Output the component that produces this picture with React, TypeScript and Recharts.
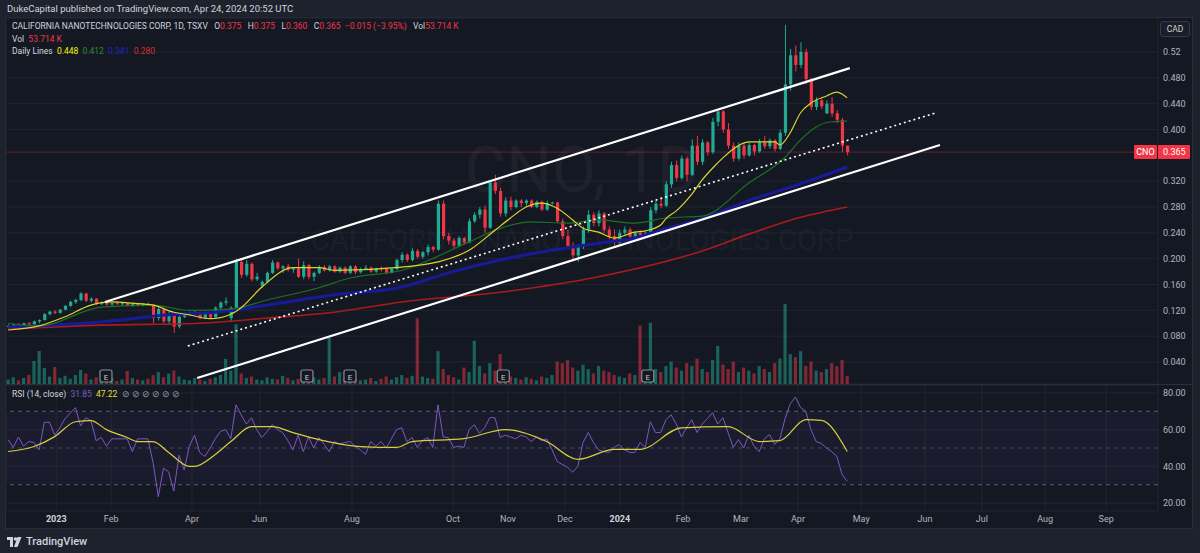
import React from 'react';
import {
  ComposedChart,
  Bar,
  Line,
  XAxis,
  YAxis,
  CartesianGrid,
  ReferenceLine,
  ReferenceArea,
  ReferenceDot,
  Cell,
} from 'recharts';

// one candle per two sessions: index 0 = mid Dec 2022, index 162 = Apr 24 2024
// [open, high, low, close]
const ohlc: number[][] = [
  [0.095, 0.098, 0.093, 0.096], [0.096, 0.099, 0.094, 0.098], [0.098, 0.1, 0.096, 0.097], [0.097, 0.101, 0.096, 0.1],
  [0.1, 0.102, 0.097, 0.098], [0.098, 0.104, 0.097, 0.103], [0.103, 0.106, 0.1, 0.105], [0.105, 0.116, 0.104, 0.114],
  [0.114, 0.119, 0.112, 0.118], [0.118, 0.12, 0.114, 0.116], [0.116, 0.122, 0.115, 0.121], [0.121, 0.128, 0.12, 0.127],
  [0.127, 0.135, 0.125, 0.133], [0.133, 0.138, 0.13, 0.136], [0.136, 0.148, 0.134, 0.146], [0.146, 0.147, 0.133, 0.135],
  [0.135, 0.14, 0.132, 0.138], [0.138, 0.139, 0.128, 0.13], [0.13, 0.134, 0.128, 0.132], [0.132, 0.133, 0.127, 0.129],
  [0.129, 0.133, 0.127, 0.131], [0.131, 0.134, 0.129, 0.13], [0.13, 0.132, 0.128, 0.131], [0.131, 0.132, 0.126, 0.127],
  [0.127, 0.132, 0.125, 0.13], [0.13, 0.131, 0.126, 0.128], [0.128, 0.131, 0.126, 0.13], [0.13, 0.132, 0.127, 0.129],
  [0.129, 0.13, 0.1, 0.108], [0.108, 0.126, 0.104, 0.122], [0.122, 0.124, 0.1, 0.103], [0.103, 0.118, 0.098, 0.114],
  [0.114, 0.116, 0.085, 0.095], [0.095, 0.112, 0.092, 0.11], [0.11, 0.116, 0.108, 0.114], [0.114, 0.118, 0.112, 0.116],
  [0.116, 0.119, 0.113, 0.117], [0.117, 0.118, 0.106, 0.108], [0.108, 0.118, 0.107, 0.116], [0.116, 0.117, 0.107, 0.109],
  [0.109, 0.126, 0.108, 0.124], [0.124, 0.134, 0.122, 0.132], [0.132, 0.14, 0.128, 0.134], [0.108, 0.126, 0.102, 0.124],
  [0.124, 0.2, 0.12, 0.195], [0.195, 0.2, 0.17, 0.175], [0.175, 0.198, 0.172, 0.192], [0.192, 0.194, 0.165, 0.168],
  [0.168, 0.178, 0.165, 0.172], [0.158, 0.166, 0.155, 0.164], [0.164, 0.18, 0.162, 0.178], [0.178, 0.198, 0.176, 0.194],
  [0.194, 0.196, 0.182, 0.185], [0.185, 0.19, 0.178, 0.188], [0.188, 0.192, 0.18, 0.183], [0.183, 0.187, 0.178, 0.185],
  [0.185, 0.2, 0.17, 0.172], [0.172, 0.196, 0.168, 0.19], [0.19, 0.192, 0.168, 0.172], [0.172, 0.18, 0.165, 0.178],
  [0.178, 0.19, 0.176, 0.187], [0.187, 0.19, 0.18, 0.182], [0.182, 0.19, 0.18, 0.188], [0.188, 0.19, 0.178, 0.18],
  [0.18, 0.188, 0.178, 0.186], [0.186, 0.188, 0.176, 0.178], [0.178, 0.19, 0.176, 0.188], [0.188, 0.19, 0.176, 0.179],
  [0.179, 0.186, 0.177, 0.184], [0.184, 0.19, 0.182, 0.186], [0.186, 0.188, 0.178, 0.18], [0.18, 0.186, 0.178, 0.185],
  [0.185, 0.188, 0.18, 0.184], [0.184, 0.186, 0.176, 0.178], [0.178, 0.186, 0.177, 0.184], [0.184, 0.2, 0.182, 0.198],
  [0.198, 0.21, 0.194, 0.206], [0.206, 0.208, 0.195, 0.198], [0.198, 0.216, 0.196, 0.212], [0.212, 0.215, 0.2, 0.203],
  [0.203, 0.212, 0.2, 0.21], [0.21, 0.222, 0.205, 0.218], [0.218, 0.22, 0.21, 0.214], [0.214, 0.29, 0.212, 0.285],
  [0.285, 0.29, 0.23, 0.235], [0.235, 0.24, 0.222, 0.228], [0.228, 0.232, 0.215, 0.22], [0.22, 0.235, 0.218, 0.232],
  [0.232, 0.234, 0.222, 0.225], [0.225, 0.262, 0.224, 0.258], [0.258, 0.272, 0.255, 0.268], [0.268, 0.28, 0.262, 0.276],
  [0.276, 0.282, 0.24, 0.248], [0.248, 0.322, 0.246, 0.318], [0.318, 0.33, 0.3, 0.305], [0.305, 0.31, 0.265, 0.27],
  [0.27, 0.295, 0.265, 0.29], [0.29, 0.296, 0.275, 0.28], [0.28, 0.292, 0.278, 0.29], [0.29, 0.292, 0.28, 0.286],
  [0.286, 0.292, 0.282, 0.29], [0.29, 0.292, 0.278, 0.28], [0.28, 0.29, 0.278, 0.288], [0.288, 0.29, 0.274, 0.276],
  [0.276, 0.29, 0.274, 0.286], [0.286, 0.288, 0.284, 0.287], [0.287, 0.288, 0.255, 0.258], [0.258, 0.262, 0.23, 0.235],
  [0.235, 0.245, 0.215, 0.22], [0.22, 0.225, 0.198, 0.205], [0.205, 0.222, 0.195, 0.218], [0.218, 0.25, 0.215, 0.245],
  [0.245, 0.275, 0.24, 0.268], [0.268, 0.272, 0.25, 0.255], [0.255, 0.275, 0.25, 0.27], [0.27, 0.272, 0.24, 0.245],
  [0.245, 0.25, 0.23, 0.235], [0.235, 0.245, 0.22, 0.225], [0.225, 0.245, 0.222, 0.24], [0.24, 0.25, 0.235, 0.245],
  [0.245, 0.248, 0.23, 0.234], [0.234, 0.242, 0.232, 0.24], [0.24, 0.244, 0.232, 0.236], [0.236, 0.242, 0.234, 0.24],
  [0.24, 0.28, 0.238, 0.275], [0.275, 0.29, 0.27, 0.285], [0.285, 0.296, 0.278, 0.282], [0.282, 0.32, 0.28, 0.315],
  [0.315, 0.35, 0.31, 0.345], [0.345, 0.352, 0.32, 0.325], [0.325, 0.36, 0.322, 0.355], [0.355, 0.358, 0.32, 0.33],
  [0.33, 0.385, 0.328, 0.375], [0.375, 0.39, 0.345, 0.35], [0.35, 0.385, 0.345, 0.38], [0.38, 0.382, 0.36, 0.365],
  [0.365, 0.418, 0.362, 0.412], [0.412, 0.432, 0.405, 0.428], [0.428, 0.43, 0.395, 0.4], [0.4, 0.41, 0.37, 0.375],
  [0.375, 0.38, 0.35, 0.355], [0.355, 0.38, 0.352, 0.375], [0.375, 0.38, 0.355, 0.36], [0.36, 0.38, 0.358, 0.376],
  [0.376, 0.378, 0.36, 0.366], [0.366, 0.385, 0.364, 0.38], [0.38, 0.39, 0.37, 0.374], [0.374, 0.386, 0.37, 0.383],
  [0.383, 0.385, 0.366, 0.37], [0.37, 0.4, 0.368, 0.395], [0.395, 0.562, 0.39, 0.47], [0.47, 0.525, 0.46, 0.515],
  [0.515, 0.53, 0.49, 0.5], [0.5, 0.535, 0.495, 0.52], [0.52, 0.525, 0.47, 0.478], [0.478, 0.48, 0.43, 0.435],
  [0.435, 0.45, 0.43, 0.445], [0.445, 0.448, 0.432, 0.436], [0.425, 0.445, 0.424, 0.44], [0.44, 0.45, 0.42, 0.425],
  [0.425, 0.43, 0.41, 0.415], [0.415, 0.418, 0.365, 0.375], [0.375, 0.375, 0.36, 0.365],
];

// volume, thousands of shares
const volumes = [
  30, 45, 25, 40, 60, 154, 221, 107, 50, 114, 40, 55, 35, 60, 94, 70, 30, 45, 25, 35,
  40, 20, 30, 87, 40, 30, 25, 35, 60, 80, 45, 70, 90, 50, 30, 25, 40, 30, 20, 35,
  45, 60, 168, 90, 400, 70, 40, 50, 30, 25, 45, 35, 30, 55, 40, 25, 35, 30, 20, 45,
  30, 40, 310, 50, 80, 35, 60, 45, 25, 30, 40, 20, 35, 50, 30, 45, 60, 40, 55, 440,
  50, 40, 35, 220, 100, 60, 45, 30, 110, 80, 290, 120, 70, 140, 90, 200, 80, 50, 40, 30,
  45, 35, 25, 50, 40, 60, 150, 140, 160, 110, 90, 130, 100, 70, 120, 90, 80, 60, 50, 40,
  70, 60, 390, 90, 410, 100, 80, 120, 150, 110, 90, 140, 120, 170, 100, 80, 160, 255, 130, 100,
  150, 80, 110, 90, 70, 120, 100, 80, 140, 170, 536, 200, 180, 220, 120, 150, 90, 80, 100, 140,
  120, 160, 54,
];

// daily moving averages, [bar index, value]
const maYellow = [
  [0, 0.0895], [6, 0.096], [11, 0.11], [16, 0.128], [20, 0.133], [24, 0.131], [28, 0.128], [32, 0.117],
  [35, 0.113], [39, 0.107], [43, 0.114], [45, 0.124], [49, 0.156], [55, 0.186], [60, 0.186], [63, 0.182],
  [76, 0.187], [83, 0.195], [89, 0.213], [94, 0.244], [97, 0.263], [100, 0.28], [103, 0.286], [106, 0.278],
  [109, 0.26], [111, 0.247], [114, 0.241], [117, 0.232], [121, 0.241], [123, 0.243], [126, 0.252], [127, 0.262],
  [129, 0.274], [132, 0.3], [134, 0.322], [136, 0.34], [138, 0.356], [140, 0.37], [143, 0.381], [148, 0.381],
  [149, 0.376], [151, 0.395], [153, 0.426], [155, 0.441], [158, 0.452], [160, 0.458], [161, 0.455], [162, 0.449],
];
const maGreen = [
  [0, 0.1], [6, 0.096], [18, 0.125], [28, 0.128], [35, 0.12], [43, 0.122], [50, 0.136], [60, 0.155],
  [66, 0.17], [76, 0.182], [89, 0.226], [95, 0.247], [101, 0.257], [108, 0.255], [114, 0.26], [121, 0.255],
  [127, 0.263], [134, 0.266], [143, 0.317], [150, 0.357], [153, 0.384], [156, 0.404], [159, 0.412], [162, 0.413],
];
const maBlue = [
  [0, 0.094], [18, 0.102], [31, 0.113], [40, 0.117], [50, 0.128], [63, 0.144], [76, 0.156], [85, 0.178],
  [95, 0.198], [105, 0.213], [114, 0.224], [121, 0.232], [126, 0.244], [134, 0.262], [143, 0.29], [153, 0.316],
  [162, 0.342],
];
const maRed = [
  [0, 0.091], [18, 0.097], [37, 0.1], [50, 0.108], [63, 0.117], [76, 0.133], [95, 0.148], [114, 0.172],
  [134, 0.212], [143, 0.238], [153, 0.264], [162, 0.28],
];

// RSI(14) per bar and its moving average
const rsi = [
  54.6, 50.3, 56, 51, 53.5, 53, 49, 64, 64, 57, 61, 66, 69, 72, 62, 66.5, 65, 54, 55.7, 51,
  55, 55, 55, 55, 48, 55, 55, 55, 42, 23.5, 39, 37, 26.5, 46, 38, 51, 57, 47.6, 45.4, 50,
  55, 59, 60, 55, 73.5, 68, 63, 66.5, 60, 55.7, 59, 62.7, 60, 58.4, 54, 49, 57, 48, 56, 50,
  55.7, 52, 48, 53.5, 52, 53, 53.5, 51, 49, 46.5, 53.5, 51, 53.5, 50, 55, 60, 61, 53.5, 55.7, 50.3,
  54, 55.7, 50.3, 73.5, 56, 55.7, 50.3, 51, 50.3, 60, 62.7, 58, 61, 66.5, 66.5, 55.7, 57, 56, 55, 57,
  56, 53.5, 56, 54, 55, 49.2, 42.7, 41, 39.5, 36.8, 40, 53, 58.4, 53, 49, 48, 47.6, 50.3, 51.9, 49,
  47.6, 47.6, 53, 50.3, 64.3, 58.4, 58.4, 65.4, 68.1, 63, 56, 61, 65.4, 58.4, 63, 66, 69.2, 63, 66.5, 58.4,
  50.3, 54.6, 50, 57, 51, 48, 55, 57.3, 52, 55, 66, 74, 77.8, 72, 70, 60, 53.5, 52.5, 50, 48,
  45.4, 35.7, 31.85,
];
const rsiMa = [
  [0, 48.1], [5, 50.8], [9, 56.2], [13, 64.3], [16, 64.9], [19, 60], [23, 55.7], [25, 53.5], [28, 53.5],
  [31, 47.6], [35, 40], [36, 40], [40, 46.5], [43, 53.5], [47, 61.6], [51, 61.6], [55, 58.4], [60, 54.6],
  [68, 50.8], [75, 50.3], [78, 53.5], [88, 55.1], [96, 60], [104, 53.5], [110, 43.8], [117, 49.2], [122, 49.2],
  [130, 61], [139, 61.6], [145, 53.5], [149, 54], [154, 65.4], [157, 65], [162, 48.1],
];

// hand drawn channel, [bar index, price]
const upperChannel = [[18.7, 0.133], [162.5, 0.495]];
const midChannel = [[34.7, 0.0648], [179.0, 0.4255]];
const lowerChannel = [[36.5, 0.0152], [179.9, 0.376]];

const earnings = [18.9, 57.7, 66, 95.6, 123.5];

const monthTicks = [9.3, 19.9, 35.5, 48.6, 66.4, 85.9, 96.5, 107.5, 118.1, 130.3, 141.5, 152.5, 164.7, 177.0, 188.0, 200.2, 212.0];
const monthLabels = ['2023', 'Feb', 'Apr', 'Jun', 'Aug', 'Oct', 'Nov', 'Dec', '2024', 'Feb', 'Mar', 'Apr', 'May', 'Jun', 'Jul', 'Aug', 'Sep'];
const priceTicks = [0.04, 0.08, 0.12, 0.16, 0.2, 0.24, 0.28, 0.32, 0.4, 0.44, 0.48, 0.52];
const rsiTicks = [20, 40, 60, 80];
const lastClose = 0.365;

const X_DOMAIN = [-0.4, 222];
const UP = '#22ab94';
const DOWN = '#f23645';
const GRID = '#21252f';
const AXIS_TEXT = '#b2b5be';
const FONT = 'Roboto, "Noto Sans", sans-serif';

const rows: Record<string, any>[] = ohlc.map(([o, h, l, c], i) => ({ i, o, h, l, c, v: volumes[i], rsi: rsi[i] }));
const addSeries = (pts: number[][], key: string) => pts.forEach(([i, v]) => { rows[i][key] = v; });
addSeries(maYellow, 'ma1');
addSeries(maGreen, 'ma2');
addSeries(maBlue, 'ma3');
addSeries(maRed, 'ma4');
addSeries(rsiMa, 'rsiMa');

const Candle = (props: any) => {
  const { x, y, width, height, payload } = props;
  if (!payload || x == null) return null;
  const { o, h, l, c } = payload;
  const top = Math.min(y, y + height);
  const span = Math.abs(height);
  const k = h > l ? span / (h - l) : 0;
  const py = (v: number) => top + (h - v) * k;
  const color = c >= o ? UP : DOWN;
  const cx = x + width / 2;
  const bTop = py(Math.max(o, c));
  const bH = Math.max(1, Math.abs(py(o) - py(c)));
  return (
    <g>
      <line x1={cx} x2={cx} y1={top} y2={top + span} stroke={color} strokeWidth={1} />
      <rect x={cx - 1.6} y={bTop} width={3.2} height={bH} fill={color} />
    </g>
  );
};

const EarningsMark = (props: any) => {
  const { cx, cy } = props;
  if (cx == null) return null;
  return (
    <g>
      <rect x={cx - 6} y={cy - 14} width={12} height={12} rx={2} fill="#131722" stroke="#8a8d96" strokeWidth={1.2} />
      <text x={cx} y={cy - 4.5} textAnchor="middle" fontSize={8} fontFamily={FONT} fill="#c8cad0">E</text>
    </g>
  );
};

const PriceTag = (props: any) => {
  const vb = props.viewBox;
  if (!vb) return null;
  const right = vb.x + vb.width;
  const y = vb.y;
  return (
    <g fontFamily={FONT} fontSize={9}>
      <rect x={right - 24} y={y - 7} width={23} height={14} fill={DOWN} rx={1} />
      <text x={right - 12.5} y={y + 3.2} textAnchor="middle" fill="#fff">CNO</text>
      <rect x={right} y={y - 7} width={32} height={14} fill={DOWN} rx={1} />
      <text x={right + 5} y={y + 3.2} fill="#fff">{lastClose.toFixed(3)}</text>
    </g>
  );
};

const DateTick = (props: any) => {
  const { x, y, payload } = props;
  const label = monthLabels[monthTicks.indexOf(payload.value)];
  const year = /^\d{4}$/.test(label || '');
  return (
    <text x={x} y={y} dy={7} textAnchor="middle" fontFamily={FONT} fontSize={9}
      fontWeight={year ? 700 : 400} fill={year ? '#d1d4dc' : AXIS_TEXT}>
      {label}
    </text>
  );
};

const channelLine = (pts: number[][], dashed: boolean, key: string) => (
  <ReferenceLine
    key={key}
    xAxisId="p"
    yAxisId="p"
    segment={[{ x: pts[0][0], y: pts[0][1] }, { x: pts[1][0], y: pts[1][1] }]}
    stroke="#ffffff"
    strokeWidth={dashed ? 1.6 : 2.2}
    strokeDasharray={dashed ? '2 3' : undefined}
    ifOverflow="visible"
  />
);

const legendRow: React.CSSProperties = {
  position: 'absolute',
  left: 12,
  fontSize: 8.5,
  color: '#d1d4dc',
  whiteSpace: 'nowrap',
  letterSpacing: 0,
};

const App = () => {
  return (
    <div style={{ position: 'absolute', left: 0, top: 0, width: 1200, height: 553, background: '#1e222d', overflow: 'hidden', fontFamily: FONT }}>
      <div style={{ position: 'absolute', left: 7, top: 3, fontSize: 9.5, color: '#d1d4dc', whiteSpace: 'nowrap' }}>
        DukeCapital published on TradingView.com, Apr 24, 2024 20:52 UTC
      </div>

      {/* chart panel */}
      <div style={{ position: 'absolute', left: 5, top: 17, width: 1188, height: 512, background: '#141823', border: '1px solid #2a2e39', boxSizing: 'border-box' }} />

      {/* watermark */}
      <div style={{ position: 'absolute', left: 0, width: 1164, top: 133, textAlign: 'center', fontSize: 64, color: 'rgba(255,255,255,0.045)', lineHeight: '76px' }}>
        CNO, 1D
      </div>
      <div style={{ position: 'absolute', left: 0, width: 1164, top: 220, textAlign: 'center', fontSize: 29, color: 'rgba(255,255,255,0.045)', lineHeight: '40px' }}>
        CALIFORNIA NANOTECHNOLOGIES CORP
      </div>

      {/* volume + price */}
      <div style={{ position: 'absolute', left: 0, top: 0 }}>
        <ComposedChart width={1200} height={384} data={rows} margin={{ top: 18, right: 8, left: 6, bottom: 0 }}>
          <XAxis xAxisId="p" dataKey="i" type="number" domain={X_DOMAIN} ticks={monthTicks} allowDataOverflow
            height={0} tick={false} axisLine={false} tickLine={false} interval={0} />
          <XAxis xAxisId="v" dataKey="i" type="number" domain={X_DOMAIN} allowDataOverflow hide />
          <YAxis yAxisId="p" orientation="right" domain={[0.0059, 0.5727]} ticks={priceTicks} allowDataOverflow
            width={34} tickSize={0} tickMargin={5} axisLine={false} interval={0}
            tick={{ fill: AXIS_TEXT, fontSize: 9, fontFamily: FONT }}
            tickFormatter={(v: number) => (v === 0.52 ? '0.52' : v.toFixed(3))} />
          <YAxis yAxisId="v" domain={[0, 2450]} hide />
          <CartesianGrid xAxisId="p" yAxisId="p" stroke={GRID} strokeWidth={1} />

          <Bar xAxisId="v" yAxisId="v" dataKey="v" barSize={3.2} isAnimationActive={false}>
            {rows.map((r) => (
              <Cell key={r.i} fill={r.c >= r.o ? 'rgba(34,171,148,0.5)' : 'rgba(242,54,69,0.5)'} />
            ))}
          </Bar>

          <Line xAxisId="p" yAxisId="p" dataKey="ma4" type="monotone" connectNulls dot={false} stroke="#a81c1c" strokeWidth={1.6} isAnimationActive={false} />
          <Line xAxisId="p" yAxisId="p" dataKey="ma3" type="monotone" connectNulls dot={false} stroke="#171b98" strokeWidth={3} isAnimationActive={false} />
          <Line xAxisId="p" yAxisId="p" dataKey="ma2" type="monotone" connectNulls dot={false} stroke="#1d7024" strokeWidth={1.2} isAnimationActive={false} />

          <ReferenceLine xAxisId="p" yAxisId="p" y={lastClose} stroke="rgba(242,54,69,0.35)" strokeWidth={1} label={<PriceTag />} />

          <Bar xAxisId="p" yAxisId="p" dataKey={(d: any) => [d.l, d.h]} barSize={4} shape={<Candle />} isAnimationActive={false} />

          <Line xAxisId="p" yAxisId="p" dataKey="ma1" type="monotone" connectNulls dot={false} stroke="#dcd52a" strokeWidth={1.2} isAnimationActive={false} />

          {channelLine(upperChannel, false, 'up')}
          {channelLine(midChannel, true, 'mid')}
          {channelLine(lowerChannel, false, 'low')}

          {earnings.map((e) => (
            <ReferenceDot key={e} xAxisId="p" yAxisId="p" x={e} y={0.0059} r={0} ifOverflow="visible" shape={<EarningsMark />} />
          ))}
        </ComposedChart>
      </div>

      {/* pane separator */}
      <div style={{ position: 'absolute', left: 5, top: 384, width: 1188, height: 1, background: '#2a2e39' }} />

      {/* RSI pane */}
      <div style={{ position: 'absolute', left: 0, top: 385 }}>
        <ComposedChart width={1200} height={144} data={rows} margin={{ top: 0, right: 8, left: 6, bottom: 0 }}>
          <XAxis dataKey="i" type="number" domain={X_DOMAIN} ticks={monthTicks} allowDataOverflow interval={0}
            height={18} tickSize={0} tickMargin={4} axisLine={false} tick={<DateTick />} />
          <YAxis orientation="right" domain={[15.7, 84.3]} ticks={rsiTicks} allowDataOverflow width={34}
            tickSize={0} tickMargin={5} axisLine={false} interval={0}
            tick={{ fill: AXIS_TEXT, fontSize: 9, fontFamily: FONT }}
            tickFormatter={(v: number) => v.toFixed(2)} />
          <CartesianGrid stroke={GRID} strokeWidth={1} />
          <ReferenceArea y1={30} y2={70} fill="rgba(126,87,194,0.12)" strokeOpacity={0} />
          <ReferenceLine y={70} stroke="#787b86" strokeDasharray="4 4" strokeOpacity={0.7} />
          <ReferenceLine y={50} stroke="#787b86" strokeDasharray="4 4" strokeOpacity={0.5} />
          <ReferenceLine y={30} stroke="#787b86" strokeDasharray="4 4" strokeOpacity={0.7} />
          <Line dataKey="rsi" type="linear" dot={false} stroke="#7e57c2" strokeWidth={1} isAnimationActive={false} />
          <Line dataKey="rsiMa" type="monotone" connectNulls dot={false} stroke="#d8cf3c" strokeWidth={1.2} isAnimationActive={false} />
        </ComposedChart>
      </div>

      {/* legends */}
      <div style={{ ...legendRow, top: 21 }}>
        CALIFORNIA NANOTECHNOLOGIES CORP, 1D, TSXV&nbsp;&nbsp;
        O<span style={{ color: DOWN }}>0.375</span>&nbsp;&nbsp;
        H<span style={{ color: DOWN }}>0.375</span>&nbsp;&nbsp;
        L<span style={{ color: DOWN }}>0.360</span>&nbsp;&nbsp;
        C<span style={{ color: DOWN }}>0.365</span>&nbsp;&nbsp;
        <span style={{ color: DOWN }}>−0.015 (−3.95%)</span>&nbsp;&nbsp;
        Vol<span style={{ color: DOWN }}>53.714 K</span>
      </div>
      <div style={{ ...legendRow, top: 34 }}>
        Vol&nbsp;&nbsp;<span style={{ color: DOWN }}>53.714 K</span>
      </div>
      <div style={{ ...legendRow, top: 46 }}>
        Daily Lines&nbsp;&nbsp;
        <span style={{ color: '#f2f20a' }}>0.448</span>&nbsp;&nbsp;
        <span style={{ color: '#2e8b2e' }}>0.412</span>&nbsp;&nbsp;
        <span style={{ color: '#2323c8' }}>0.341</span>&nbsp;&nbsp;
        <span style={{ color: '#d32f2f' }}>0.280</span>
      </div>
      <div style={{ ...legendRow, top: 389 }}>
        RSI (14, close)&nbsp;&nbsp;
        <span style={{ color: '#7e57c2' }}>31.85</span>&nbsp;&nbsp;
        <span style={{ color: '#e8de3a' }}>47.22</span>&nbsp;&nbsp;
        <span style={{ color: '#9598a1' }}>⊘&nbsp;⊘&nbsp;⊘&nbsp;⊘&nbsp;⊘&nbsp;⊘</span>
      </div>

      {/* currency badge */}
      <div style={{ position: 'absolute', left: 1160, top: 21, width: 30, height: 16, border: '1px solid #363a45', borderRadius: 3, background: '#1a1e29', boxSizing: 'border-box', color: '#d1d4dc', fontSize: 8.5, textAlign: 'center', lineHeight: '14px' }}>
        CAD
      </div>

      {/* footer */}
      <div style={{ position: 'absolute', left: 7, top: 535, display: 'flex', alignItems: 'center', gap: 3 }}>
        <svg width={16} height={10} viewBox="0 0 16 10">
          <path d="M0 0h6v10H3V3H0z" fill="#d1d4dc" />
          <circle cx={8.5} cy={2} r={1.8} fill="#d1d4dc" />
          <path d="M10.5 0h4L10.5 10h-3.5z" fill="#d1d4dc" />
        </svg>
        <span style={{ color: '#d1d4dc', fontSize: 11, fontWeight: 500 }}>TradingView</span>
      </div>
    </div>
  );
};

export default App;
